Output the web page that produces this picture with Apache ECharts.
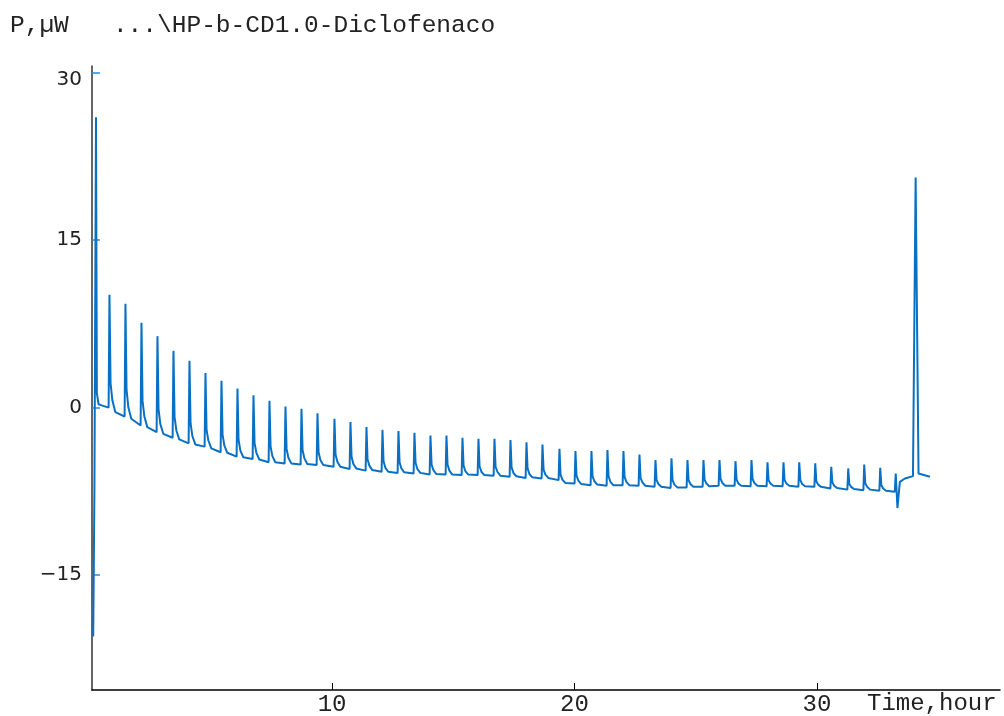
<!DOCTYPE html>
<html>
<head>
<meta charset="utf-8">
<script src="https://cdn.jsdelivr.net/npm/echarts@6/dist/echarts.min.js"></script>
<style>
  html, body { margin: 0; padding: 0; background: #fff; }
  #chart { width: 1004px; height: 716px; }
</style>
</head>
<body>
<div id="chart"></div>
<script>
// run start: the signal before the first injection
const startTimes = [0.15, 0.20, 0.265, 0.30, 0.37, 0.50, 0.785];
const startVals = [-20.5, -7.4, 26.0, 1.3, 0.3, 0.2, 0.0];

// injection peaks (hours) and the values around each one
const spikeTimes = [0.80, 1.46, 2.12, 2.78, 3.44, 4.10, 4.76, 5.42, 6.08, 6.74,
  7.40, 8.06, 8.72, 9.38, 10.08, 10.74, 11.40, 12.06, 12.72, 13.38,
  14.04, 14.70, 15.36, 16.02, 16.68, 17.34, 18.00, 18.66, 19.36, 20.02,
  20.68, 21.34, 22.00, 22.66, 23.32, 23.98, 24.64, 25.30, 25.96, 26.62,
  27.28, 27.94, 28.60, 29.25, 29.91, 30.57, 31.27, 31.93, 32.59];
const peakVals = [10.1, 9.3, 7.6, 6.4, 5.1, 4.2, 3.1, 2.4, 1.7, 1.1,
  0.6, 0.1, -0.1, -0.5, -1.0, -1.3, -1.75, -2.0, -2.1, -2.25,
  -2.5, -2.5, -2.7, -2.8, -2.8, -2.9, -3.1, -3.3, -3.7, -3.9,
  -3.9, -3.8, -3.9, -4.2, -4.7, -4.55, -4.7, -4.7, -4.7, -4.8,
  -4.7, -4.9, -4.9, -4.9, -5.0, -5.3, -5.45, -5.1, -5.4];
const tailVals = [2.2, 1.6, 0.6, -0.15, -0.85, -1.4, -2.0, -2.45, -2.9, -3.2,
  -3.5, -3.7, -3.8, -4.0, -4.2, -4.4, -4.65, -4.8, -4.9, -4.95,
  -5.1, -5.1, -5.2, -5.25, -5.3, -5.35, -5.45, -5.55, -6.0, -6.1,
  -6.15, -6.15, -6.2, -6.3, -6.5, -6.5, -6.5, -6.45, -6.4, -6.45,
  -6.4, -6.5, -6.5, -6.5, -6.6, -6.7, -6.85, -6.8, -6.95];
const kneeVals = [0.65, 0.0, -0.8, -1.5, -2.05, -2.55, -2.95, -3.4, -3.85, -4.05,
  -4.35, -4.5, -4.55, -4.7, -4.85, -5.05, -5.2, -5.4, -5.45, -5.5,
  -5.6, -5.65, -5.7, -5.75, -5.75, -5.85, -5.95, -6.0, -6.45, -6.55,
  -6.6, -6.65, -6.65, -6.7, -6.85, -6.9, -6.85, -6.8, -6.75, -6.8,
  -6.75, -6.8, -6.8, -6.85, -6.9, -7.0, -7.1, -7.1, -7.25];
const beforeVals = [0.0, -0.8, -1.6, -2.2, -2.7, -3.2, -3.5, -4.0, -4.4, -4.6,
  -4.9, -5.0, -5.1, -5.15, -5.3, -5.5, -5.65, -5.75, -5.85, -5.9,
  -6.0, -6.0, -6.05, -6.05, -6.1, -6.2, -6.3, -6.35, -6.5, -6.8,
  -6.95, -7.0, -6.95, -7.0, -7.1, -7.2, -7.15, -7.1, -7.0, -7.0,
  -7.05, -7.05, -7.05, -7.1, -7.1, -7.25, -7.35, -7.4, -7.45];
const afterVals = [-0.4, -1.0, -1.75, -2.35, -2.85, -3.3, -3.65, -4.05, -4.45, -4.65,
  -4.9, -5.0, -5.05, -5.15, -5.3, -5.45, -5.6, -5.75, -5.8, -5.85,
  -5.95, -6.0, -6.0, -6.05, -6.1, -6.15, -6.25, -6.3, -6.75, -6.85,
  -6.9, -6.95, -6.95, -7.0, -7.1, -7.15, -7.1, -7.05, -7.0, -7.0,
  -7.0, -7.0, -7.0, -7.05, -7.1, -7.2, -7.3, -7.35, -7.45];

// end of run: disturbance and calibration pulse
const endTimes = [33.21, 33.25, 33.32, 33.42, 33.63, 33.96, 34.07, 34.19, 34.25, 34.66];
const endVals = [-7.55, -5.9, -9.0, -6.65, -6.35, -6.14, 20.6, -5.9, -6.05, -6.2];

const xLabels = [10, 20, 30];
const yLabels = [-15, 0, 15, 30];

const points = [];
startTimes.forEach((t, i) => points.push([t, startVals[i]]));
spikeTimes.forEach((t, i) => {
  points.push([t - 0.015, beforeVals[i]]);
  points.push([t + 0.02, peakVals[i]]);
  points.push([t + 0.065, tailVals[i]]);
  points.push([t + 0.14, kneeVals[i]]);
  points.push([t + 0.26, afterVals[i]]);
});
endTimes.forEach((t, i) => points.push([t, endVals[i]]));

const chart = echarts.init(document.getElementById('chart'));

const labelFont = { fontFamily: 'DejaVu Sans', fontSize: 20, color: '#222' };

const option = {
  animation: false,
  backgroundColor: '#fff',
  grid: { left: 92, right: 4, top: 66, bottom: 26, containLabel: false, outerBoundsMode: 'none' },
  xAxis: {
    type: 'value',
    min: 0.1,
    max: 37.55,
    axisLine: { show: true, onZero: false, lineStyle: { color: '#000', width: 1.5 } },
    axisTick: { show: true, inside: true, length: 7, customValues: xLabels, lineStyle: { color: '#000', width: 1 } },
    axisLabel: {
      customValues: xLabels,
      fontFamily: 'Liberation Mono',
      fontSize: 24,
      color: '#222',
      margin: 3
    },
    splitLine: { show: false }
  },
  yAxis: {
    type: 'value',
    min: -25.3,
    max: 30.6,
    axisLine: { show: true, onZero: false, lineStyle: { color: '#333', width: 1.5 } },
    axisTick: { show: true, inside: true, length: 8, customValues: yLabels, lineStyle: { color: '#2f8ad8', width: 1.5 } },
    axisLabel: {
      customValues: yLabels,
      ...labelFont,
      margin: 10,
      formatter: v => {
        if (v === 30) return '{hi|30}';
        return v < 0 ? '\u2212' + Math.abs(v) : String(v);
      },
      rich: { hi: { ...labelFont, padding: [14, 0, 0, 0] } }
    },
    splitLine: { show: false }
  },
  graphic: [
    {
      type: 'text', left: 10, top: 13,
      style: { text: 'P,\u00b5W   ...\\HP-b-CD1.0-Diclofenaco', font: '24.5px "Liberation Mono"', fill: '#222' }
    },
    {
      type: 'text', left: 867, top: 692,
      style: { text: 'Time,hour', font: '24px "Liberation Mono"', fill: '#222' }
    }
  ],
  series: [{
    type: 'line',
    data: points,
    showSymbol: false,
    symbol: 'none',
    lineStyle: { color: '#0a70c4', width: 2 },
    itemStyle: { color: '#0a70c4' }
  }]
};

chart.setOption(option);
</script>
</body>
</html>
